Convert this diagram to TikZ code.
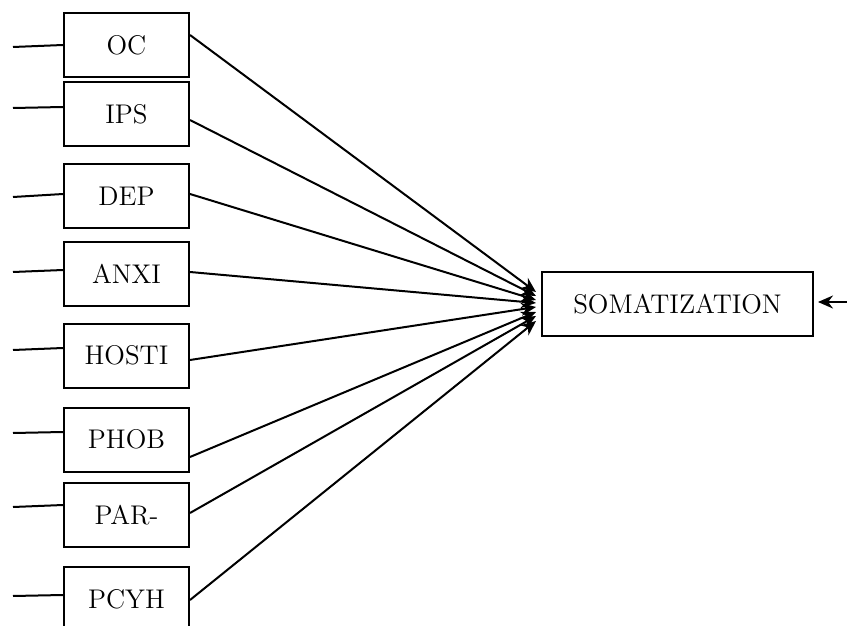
\documentclass[tikz,border=0pt]{standalone}
\usepackage{tikz}
\usetikzlibrary{calc}
\usetikzlibrary{arrows.meta}

\begin{document}
\begin{tikzpicture}[x=0.5pt,y=-0.5pt,
  var/.style={draw,line width=1pt,minimum width=62.5pt,minimum height=32pt,inner sep=0pt,font=\fontsize{13.5}{16}\selectfont},
  path/.style={line width=1pt,-{Stealth[length=7.5pt,width=6.5pt]}}]
 \clip (0,0) rectangle (847,626);
  % observed variables
  \node[var] (oc) at (126.5,45) {OC};
  \node[var] (ips) at (126.5,114.5) {IPS};
  \node[var] (dep) at (126.5,196) {DEP};
  \node[var] (anxi) at (126.5,274) {ANXI};
  \node[var] (hosti) at (126.5,355.5) {HOSTI};
  \node[var] (phob) at (126.5,439.5) {PHOB};
  \node[var] (par) at (126.5,515) {PAR-};
  \node[var] (pcyh) at (126.5,599) {PCYH};
  \node[var,minimum width=135.5pt] (soma) at (677.5,304) {SOMATIZATION};
  % error terms
  \foreach \n/\ya/\yb in {oc/47/0, ips/108/-7.5, dep/197/-2, anxi/272/-4, hosti/350/-7.5, phob/433/-7.5, par/507/-10, pcyh/596/-4}{
    \coordinate (e-\n) at (13,\ya);
    \draw[line width=1pt] (e-\n) -- ($(\n.west)+(0,\yb)$);
  }
  % paths
  \foreach \n/\da/\db in {oc/-10/-12, ips/5.5/-8, dep/-2/-4, anxi/-2/-1, hosti/4.5/3, phob/17.5/8, par/-2/12, pcyh/1/17}
    \draw[path] ($(\n.east)+(0,\da)$) -- ($(soma.west)+(-5,\db)$);
  \coordinate (r) at (847,302);
  \draw[path] (r) -- ($(soma.east)+(4,-2)$);
\end{tikzpicture}
\end{document}
